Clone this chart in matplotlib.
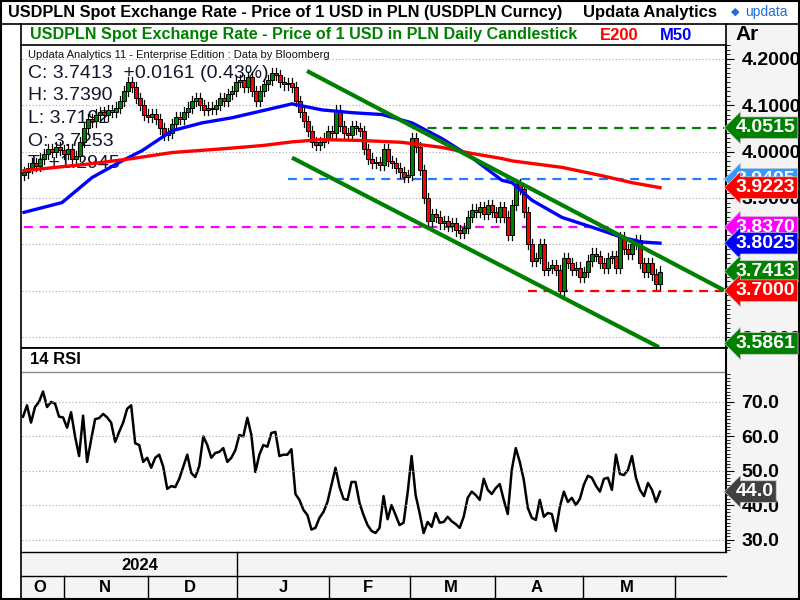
import numpy as np
import matplotlib
matplotlib.use("Agg")
import matplotlib.pyplot as plt
from matplotlib.patches import Rectangle
from matplotlib.lines import Line2D
import matplotlib.transforms as mtrans

plt.rcParams["font.family"] = "Liberation Sans"

# ---------------- data ----------------
closes = [3.955,3.965,3.975,3.970,3.985,3.995,4.005,4.000,4.010,4.003,
          3.995,4.005,3.985,3.990,4.020,4.050,4.070,4.065,4.080,4.085,
          4.078,4.090,4.085,4.095,4.110,4.130,4.150,4.140,4.115,4.100,
          4.080,4.075,4.082,4.070,4.050,4.035,4.040,4.060,4.075,4.070,
          4.085,4.095,4.110,4.115,4.100,4.090,4.095,4.092,4.100,4.115,
          4.110,4.125,4.130,4.150,4.155,4.140,4.160,4.130,4.110,4.130,
          4.145,4.155,4.170,4.165,4.150,4.145,4.148,4.140,4.110,4.085,
          4.065,4.045,4.020,4.015,4.020,4.030,4.045,4.040,4.090,4.055,
          4.040,4.035,4.055,4.050,4.045,4.005,3.985,3.975,3.978,3.972,
          4.005,3.980,3.975,3.965,3.955,3.945,3.950,4.030,4.010,3.960,
          3.900,3.850,3.865,3.860,3.845,3.850,3.840,3.845,3.830,3.825,
          3.835,3.860,3.875,3.870,3.880,3.865,3.885,3.870,3.860,3.880,
          3.860,3.820,3.885,3.930,3.920,3.870,3.800,3.765,3.770,3.800,
          3.745,3.750,3.755,3.745,3.700,3.770,3.760,3.745,3.750,3.730,
          3.740,3.765,3.780,3.775,3.760,3.750,3.770,3.775,3.750,3.815,
          3.790,3.780,3.800,3.810,3.760,3.740,3.760,3.735,3.715,3.7413]
first_open = 3.950

m50_idx = [0, 9.5, 17, 24.5, 29.5, 37, 44.5, 52, 59.5, 67, 74.5, 82, 89.5, 97, 104.5, 112, 119.5, 122, 127, 134.5, 142, 149.5, 154.5, 159]
m50_val = [3.869, 3.890, 3.944, 3.980, 4.002, 4.045, 4.062, 4.073, 4.088, 4.103, 4.090, 4.084, 4.080, 4.062, 4.028, 3.987, 3.938, 3.933, 3.895, 3.858, 3.837, 3.815, 3.805, 3.8025]
e200_idx = [0, 17, 27, 37, 49.5, 59.5, 67, 74.5, 84.5, 94.5, 104.5, 112, 119.5, 122, 134.5, 144.5, 152, 159]
e200_val = [3.959, 3.974, 3.985, 3.998, 4.006, 4.013, 4.021, 4.026, 4.024, 4.020, 4.009, 3.996, 3.985, 3.980, 3.966, 3.948, 3.933, 3.9223]

rsi = [65.7,69,64,68.5,70,73,68.5,70,69.5,65.7,65.5,62.5,67,60,54.3,66,52.6,59,65,65.3,
       66.5,65.5,64,58.4,61.3,64,68,69,58,57.5,52.6,53.8,50.9,53.8,54.7,51.2,44.8,45.6,45.3,47.7,
       51.2,54.7,49.4,48.2,51.4,60,57.5,53.8,55.2,55.5,56.6,52.6,53.8,56,60.4,60,65.4,60.4,49.7,54.7,
       57.5,57,61,61.3,54.3,54.7,54.7,56.3,43.3,41.6,38.7,37.2,33,33.5,36.4,38.1,41,46,50.9,45.4,
       41.9,41.6,46.8,46.8,40.7,37.2,34.3,32.6,32,33.5,42.7,36,40.1,37.2,34.3,35,43.6,54.3,43,37.8,
       32,35.2,33.8,37.8,35,35.2,36.7,35.4,34.6,33.5,36.7,42.2,44,43,41.6,47.7,44.5,43.3,45,46.2,
       41.6,37.5,50.3,56.6,52.6,47.4,39.3,36.4,35.8,41.6,36.7,37.8,37.5,32.6,39.6,44,41,42.2,40.1,41.9,
       46,48.6,48,45.7,44,47.7,48,44.5,54.7,49.1,48.8,50.3,54.3,48,44.5,42.7,46.5,44.5,41,44]

upper_chan_idx = [70.75, 175]
upper_chan_val = [4.174, 3.701]
lower_chan_idx = [67, 158.75]
lower_chan_val = [3.987, 3.578]

hlines = [(4.0515, 97, 175, "#008000"), (3.9405, 66, 175, "#1e7fff"),
          (3.8370, 0, 175, "#ff00ff"), (3.7000, 126, 175, "#ff0000")]
price_labels = [(4.0515, "#008000"), (3.9405, "#3399ff"), (3.9223, "#ff0000"),
                (3.8370, "#ff00ff"), (3.8025, "#0000ff"), (3.7413, "#008000"),
                (3.7000, "#ff0000"), (3.5861, "#008000")]
price_ticks = [3.6, 3.7, 3.8, 3.9, 4.0, 4.1, 4.2]
rsi_ticks = [30, 40, 50, 60, 70]
rsi_last = 44.0

month_labels = ["O", "N", "D", "J", "F", "M", "A", "M"]
month_label_x = [40, 105, 190, 283, 368, 451, 537, 627]
month_sep_x = [64, 148, 237, 329, 410, 495, 583, 675]

# ---------------- figure ----------------
W, H = 800, 600
fig = plt.figure(figsize=(8, 6), dpi=100)
fig.patch.set_facecolor("white")

def fx(px): return px / W
def fy(py): return 1 - py / H

fig.patches.append(Rectangle((fx(726), 0), fx(74), fy(24), transform=fig.transFigure, facecolor="#f4f4f4", edgecolor="none", zorder=-5))
fig.patches.append(Rectangle((fx(21), fy(598)), fx(705), 46 / H, transform=fig.transFigure, facecolor="#f4f4f4", edgecolor="none", zorder=-5))

L, R = 22, 726
ax = fig.add_axes([fx(L), fy(347), fx(R - L), (347 - 45) / H])
ax2 = fig.add_axes([fx(L), fy(552), fx(R - L), (552 - 347) / H])
ax.set_zorder(2)
ax2.set_zorder(1)

n = len(closes)
opens = [first_open] + closes[:-1]
for i in range(n):
    o, c = opens[i], closes[i]
    hi, lo = max(o, c) + 0.011, min(o, c) - 0.011
    col = "#008000" if c >= o else "#ff0000"
    ax.add_line(Line2D([i, i], [lo, hi], color="black", lw=0.9, zorder=3))
    b = abs(c - o) if abs(c - o) > 0.002 else 0.002
    ax.add_patch(Rectangle((i - 0.38, min(o, c)), 0.76, b, facecolor=col, edgecolor="black", lw=0.7, zorder=4))

ax.plot(m50_idx, m50_val, color="#0000ff", lw=2.4, zorder=5)
ax.plot(e200_idx, e200_val, color="#ff0000", lw=2.4, zorder=5)
ax.plot(upper_chan_idx, upper_chan_val, color="#008000", lw=3, zorder=6, solid_capstyle="butt")
ax.plot(lower_chan_idx, lower_chan_val, color="#008000", lw=3, zorder=6, solid_capstyle="butt")
for v, a, b_, c in hlines:
    ax.plot([a, b_], [v, v], color=c, lw=1.6, ls=(0, (4, 3)), zorder=2)

ax.set_xlim(-0.5, 175.5)
ax.set_ylim(3.5785, 4.228)
ax.set_xticks([])
ax.yaxis.tick_right()
ax.set_yticks(price_ticks)
ax.set_yticklabels(["%.4f" % t for t in price_ticks], fontsize=14, fontweight="bold")
ax.set_yticks(np.arange(3.58, 4.23, 0.01), minor=True)
ax.tick_params(axis="y", which="major", length=6, direction="out", pad=5)
ax.tick_params(axis="y", which="minor", length=3, direction="out")
for t in price_ticks:
    ax.axhline(t, color="#aaaaaa", lw=0.8, ls=(0, (1, 2)), zorder=1)
for s in ["top", "left", "bottom"]:
    ax.spines[s].set_visible(False)
ax.spines["right"].set_linewidth(1.5)

trans = mtrans.blended_transform_factory(ax.transAxes, ax.transData)
for v, c in price_labels:
    ax.text(1.014, v, "%.4f" % v, transform=trans, color="white", fontsize=14, fontweight="bold",
            va="center", ha="left", clip_on=False, zorder=10,
            bbox=dict(boxstyle="larrow,pad=0.12", facecolor=c, edgecolor="#cccccc", lw=0.5))

ax.text(0.008, 0.985, "Updata Analytics 11 - Enterprise Edition : Data by Bloomberg", transform=ax.transAxes, fontsize=8, va="top", color="#111111")
info = ["C: 3.7413  +0.0161 (0.43%)", "H: 3.7390", "L: 3.7192", "O: 3.7253", "T: +1.2945"]
for k, s in enumerate(info):
    ax.text(0.008, 0.935 - k * 0.075, s, transform=ax.transAxes, fontsize=14, va="top", color="#151530", zorder=2)

# RSI
ax2.plot(np.linspace(-0.25, 159, len(rsi)), rsi, color="black", lw=1.8)
ax2.set_xlim(-0.5, 175.5)
ax2.set_ylim(26.5, 85.9)
ax2.set_xticks([])
ax2.yaxis.tick_right()
ax2.set_yticks(rsi_ticks)
ax2.set_yticklabels(["%.1f" % t for t in rsi_ticks], fontsize=14, fontweight="bold")
ax2.set_yticks(np.arange(27, 79, 1), minor=True)
ax2.tick_params(axis="y", which="major", length=6, pad=5)
ax2.tick_params(axis="y", which="minor", length=3)
for t in rsi_ticks:
    ax2.axhline(t, color="#aaaaaa", lw=0.8, ls=(0, (1, 2)))
ax2.axhline(78.7, color="#888888", lw=1)
for s in ["left", "bottom"]:
    ax2.spines[s].set_visible(False)
ax2.spines["top"].set_linewidth(2)
ax2.spines["right"].set_linewidth(1.5)
trans2 = mtrans.blended_transform_factory(ax2.transAxes, ax2.transData)
ax2.text(0.012, 82.3, "14 RSI", fontsize=12, fontweight="bold", va="center", transform=trans2)
ax2.text(1.014, rsi_last, "%.1f" % rsi_last, transform=trans2, color="white", fontsize=14, fontweight="bold",
         va="center", ha="left", clip_on=False, zorder=10,
         bbox=dict(boxstyle="larrow,pad=0.12", facecolor="#404040", edgecolor="#cccccc", lw=0.5))

# header
fig.text(fx(8), fy(12), "USDPLN Spot Exchange Rate - Price of 1 USD in PLN (USDPLN Curncy)", fontsize=11.7, fontweight="bold", va="center")
fig.text(fx(583), fy(12), "Updata Analytics", fontsize=12, fontweight="bold", va="center")
fig.text(fx(745), fy(12), "updata", fontsize=10, color="#1e6fd9", va="center")
fig.text(fx(731), fy(12), "◆", fontsize=8, color="#1e6fd9", va="center", family="DejaVu Sans")
fig.text(fx(30), fy(35), "USDPLN Spot Exchange Rate - Price of 1 USD in PLN Daily Candlestick", fontsize=11.6, fontweight="bold", color="#008000", va="center")
fig.text(fx(600), fy(35), "E200", fontsize=12, fontweight="bold", color="#ff0000", va="center")
fig.text(fx(660), fy(35), "M50", fontsize=12, fontweight="bold", color="#0000ff", va="center")
fig.text(fx(735), fy(35), "Ar", fontsize=15, fontweight="bold", va="center")

def hline(y, x0, x1, lw=1, c="black"):
    fig.lines.append(Line2D([fx(x0), fx(x1)], [fy(y), fy(y)], transform=fig.transFigure, color=c, lw=lw))
def vline(x, y0, y1, lw=1, c="black"):
    fig.lines.append(Line2D([fx(x), fx(x)], [fy(y0), fy(y1)], transform=fig.transFigure, color=c, lw=lw))

hline(24, 0, 800, 1.2)
hline(45, 21, 726, 1.2)
vline(21, 24, 598, 1.2)
vline(726, 24, 45, 1.2)
hline(552, 21, 726, 1)
hline(576, 21, 726, 1)
vline(237, 552, 576, 1)
for x in month_sep_x:
    vline(x, 576, 598, 1)
for x, s in zip(month_label_x, month_labels):
    fig.text(fx(x), fy(588), s, fontsize=12, fontweight="bold", ha="center", va="center")
fig.text(fx(140), fy(565), "2024", fontsize=12, fontweight="bold", ha="center", va="center")
fig.patches.append(Rectangle((0.001, 0.001), 0.998, 0.998, transform=fig.transFigure, fill=False, edgecolor="black", lw=1.5))

fig.savefig("out.png", dpi=100)
